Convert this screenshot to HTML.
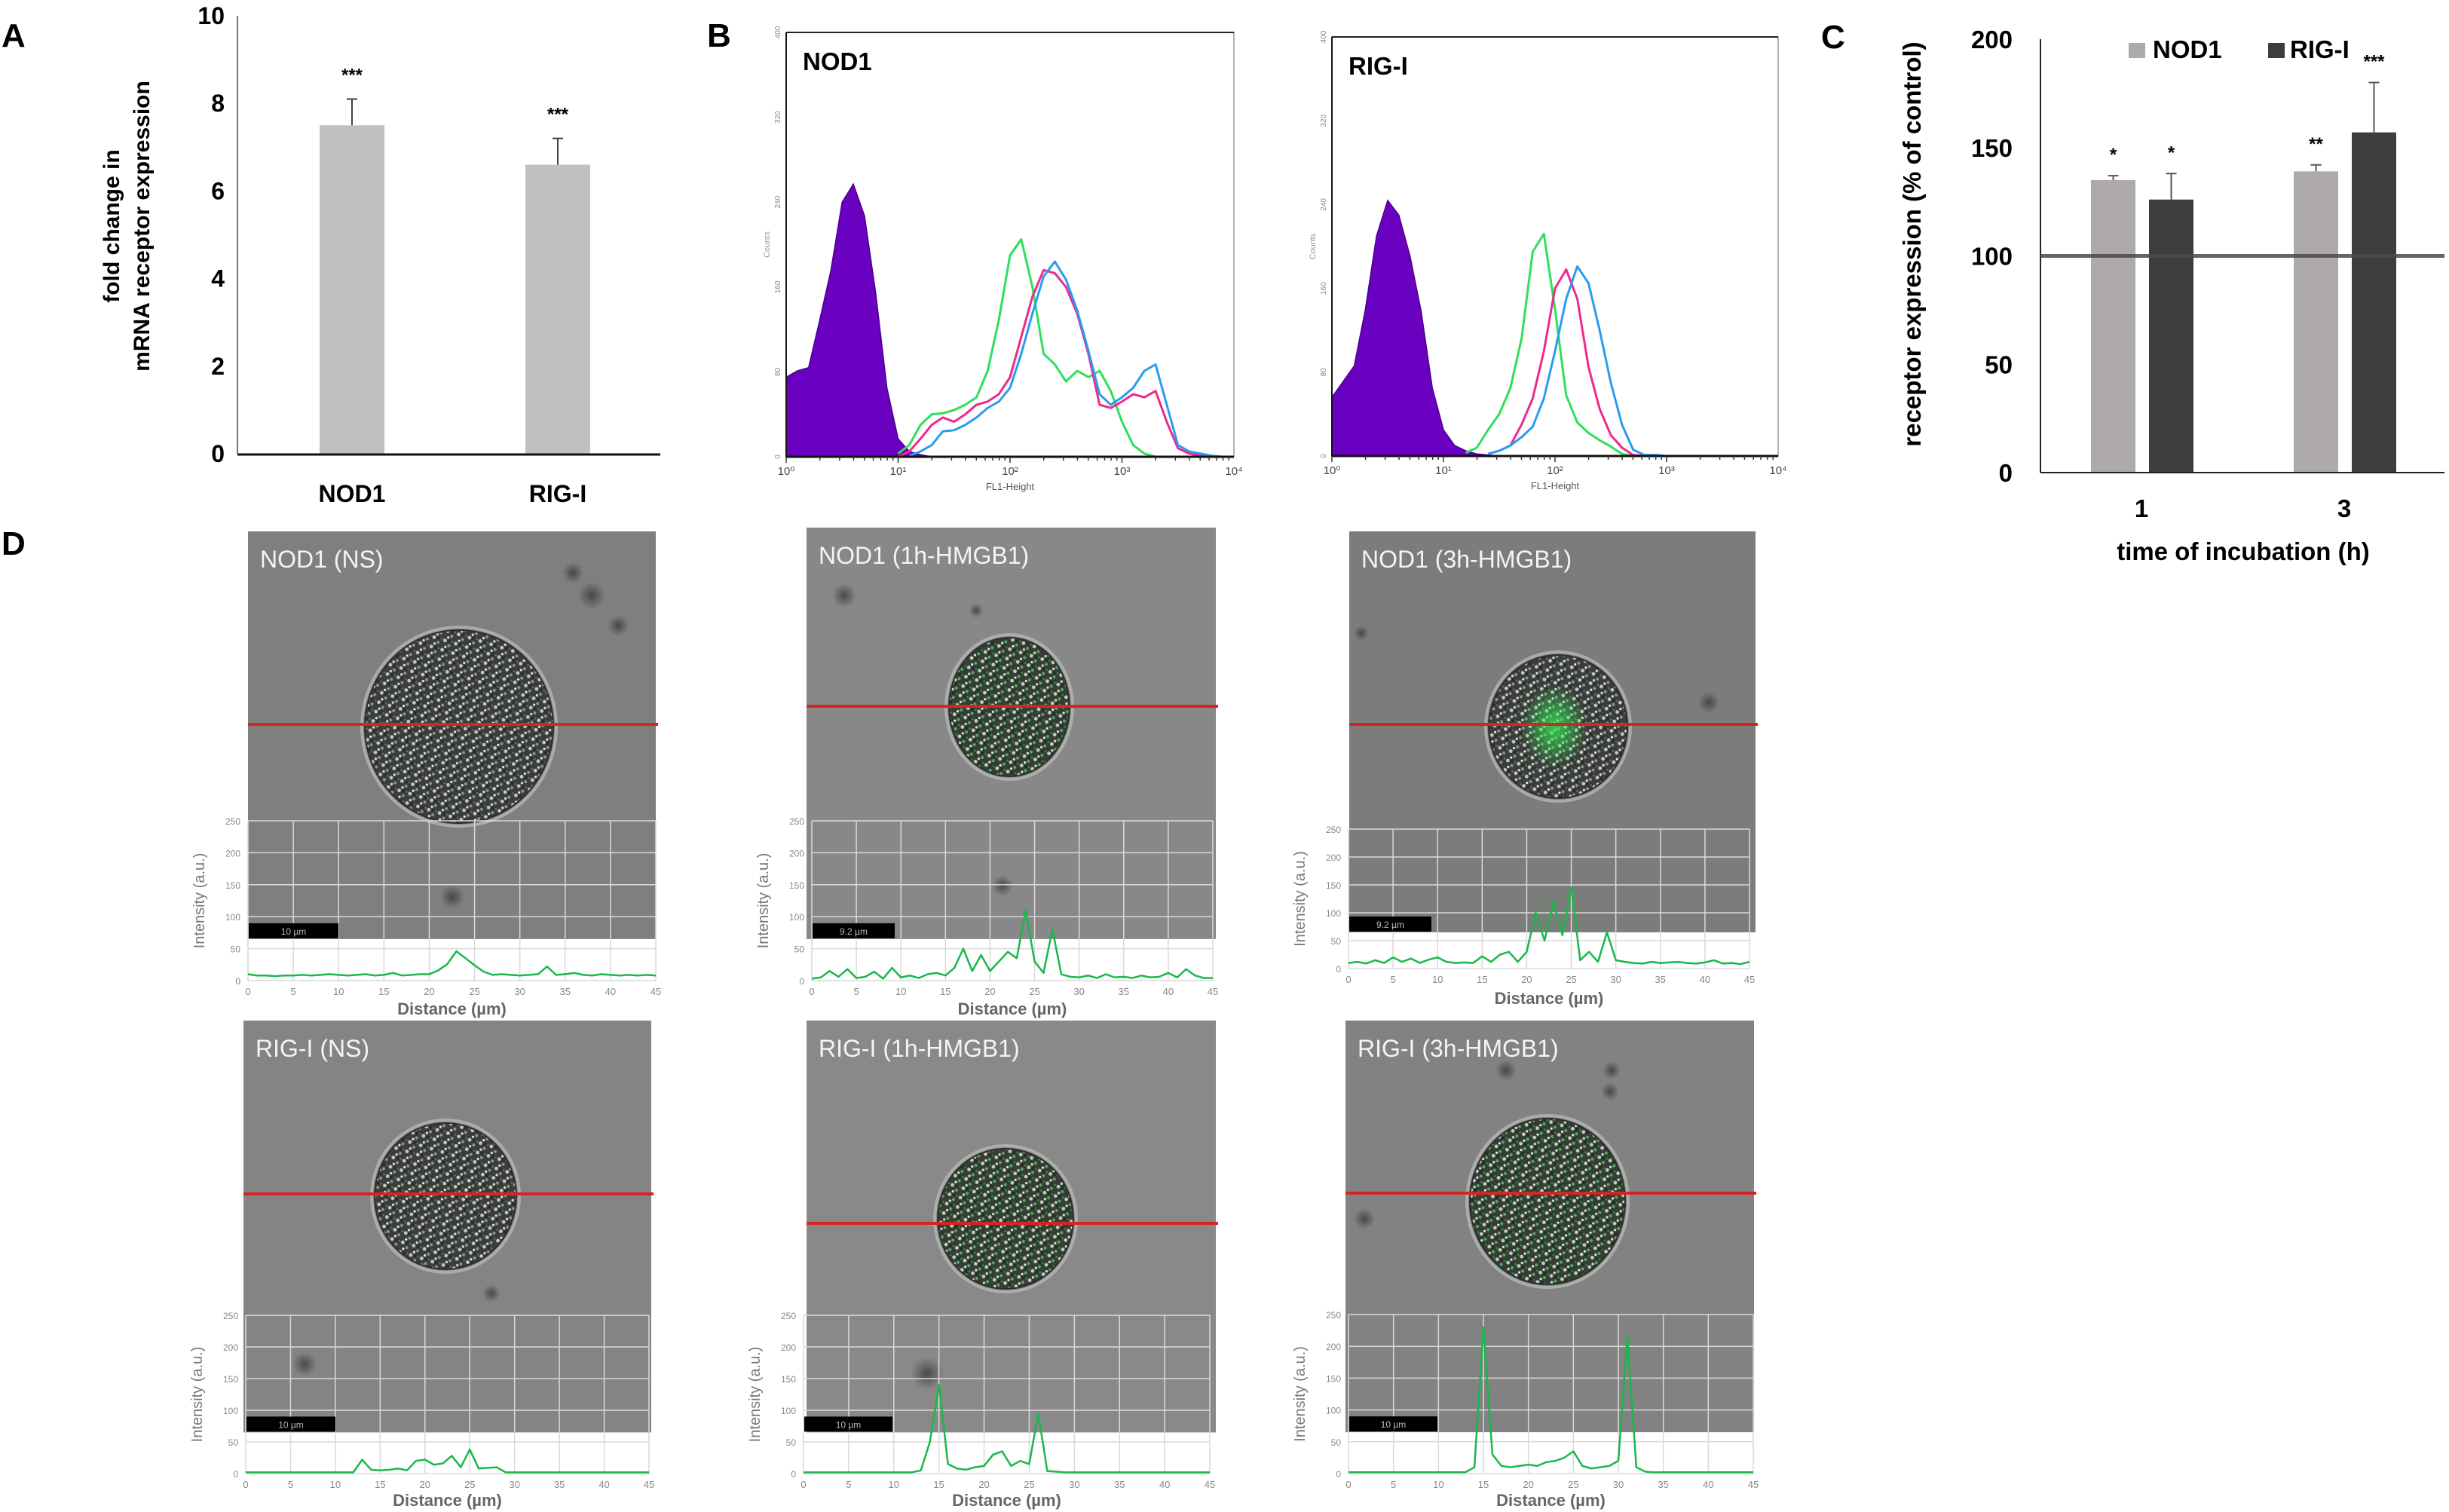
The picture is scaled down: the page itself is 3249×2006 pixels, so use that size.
<!DOCTYPE html>
<html><head><meta charset="utf-8"><title>NOD1 / RIG-I expression figure</title>
<style>
html,body{margin:0;padding:0;background:#fff;}
svg{display:block;font-family:"Liberation Sans",sans-serif;}
</style></head>
<body>
<svg id="fig" width="3249" height="2006" viewBox="0 0 3249 2006" xmlns="http://www.w3.org/2000/svg">
<defs>
<pattern id="tex" width="15" height="13" patternUnits="userSpaceOnUse" patternTransform="rotate(17)">
<rect width="15" height="13" fill="#3a3d3a"/>
<circle cx="3" cy="3" r="2.4" fill="#c4c8c4"/>
<circle cx="10" cy="8" r="2" fill="#8d938d"/>
<circle cx="6" cy="11" r="1.6" fill="#e2e6e2"/>
<circle cx="13" cy="2" r="1.3" fill="#6a706a"/>
<rect x="7" y="1" width="3" height="3" fill="#262826"/>
</pattern>
<pattern id="texg" width="15" height="13" patternUnits="userSpaceOnUse" patternTransform="rotate(17)">
<rect width="15" height="13" fill="#353d35"/>
<circle cx="3" cy="3" r="2.4" fill="#c0d0c0"/>
<circle cx="10" cy="8" r="2" fill="#4fae5c"/>
<circle cx="6" cy="11" r="1.6" fill="#dfe8df"/>
<circle cx="13" cy="2" r="1.3" fill="#3a8f46"/>
<rect x="7" y="1" width="3" height="3" fill="#232823"/>
</pattern>
<radialGradient id="glow"><stop offset="0" stop-color="#33ee55" stop-opacity="0.8"/><stop offset="1" stop-color="#33ee55" stop-opacity="0"/></radialGradient>
<radialGradient id="blob"><stop offset="0" stop-color="#303030" stop-opacity="0.7"/><stop offset="1" stop-color="#303030" stop-opacity="0"/></radialGradient>
</defs>

<text x="2" y="62" font-size="44" font-weight="bold">A</text>
<text x="938" y="62" font-size="44" font-weight="bold">B</text>
<text x="2416" y="64" font-size="44" font-weight="bold">C</text>
<text x="2" y="736" font-size="44" font-weight="bold">D</text>

<g id="panelA">
<text transform="translate(158,300) rotate(-90)" text-anchor="middle" font-size="30" font-weight="bold">fold change in</text>
<text transform="translate(198,300) rotate(-90)" text-anchor="middle" font-size="30" font-weight="bold">mRNA receptor expression</text>
</g>
<g id="panelB"></g>
<g id="panelC">
<text transform="translate(2548,324) rotate(-90)" text-anchor="middle" font-size="33" font-weight="bold">receptor expression (% of control)</text>
<text x="2976" y="743" text-anchor="middle" font-size="33" font-weight="bold">time of incubation (h)</text>
<rect x="2824" y="57" width="22" height="20" fill="#aeaaaa"/>
<text x="2856" y="77" font-size="33" font-weight="bold">NOD1</text>
<rect x="3009" y="57" width="22" height="20" fill="#3d3d3d"/>
<text x="3038" y="77" font-size="33" font-weight="bold">RIG-I</text>
</g>
<g id="panelD"></g>
</svg>

<script>
// ---------- Panel A data ----------
const catsA = ['NOD1', 'RIG-I'];
const valsA = [7.5, 6.6];
const errA = [0.6, 0.6];
const starsA = ['***', '***'];
const ticksA = [0, 2, 4, 6, 8, 10];

// ---------- Panel C data ----------
const timesC = ['1', '3'];
const nodC = [135, 139];
const nodErrC = [2, 3];
const rigC = [126, 157];
const rigErrC = [12, 23];
const nodStarsC = ['*', '**'];
const rigStarsC = ['*', '***'];
const ticksC = [0, 50, 100, 150, 200];
const refC = 100;

// ---------- Panel B histogram data (counts at 0.1-decade bins) ----------
const nodPurpleStart = 0.0;
const nodPurple = [75, 81, 84, 129, 176, 240, 257, 227, 154, 65, 17, 5, 2, 0];
const nodGreenStart = 1.0;
const nodGreen = [3, 11, 30, 40, 41, 44, 49, 56, 81, 129, 190, 205, 160, 97, 87, 71, 81, 75, 81, 62, 33, 11, 3, 0, 0, 0, 0, 0, 0, 0];
const nodPinkStart = 1.0;
const nodPink = [0, 5, 17, 30, 37, 33, 40, 49, 52, 59, 75, 113, 151, 176, 173, 160, 135, 97, 49, 46, 52, 59, 56, 62, 33, 8, 3, 1, 0, 0];
const nodBlueStart = 1.1;
const nodBlue = [1, 5, 11, 24, 25, 30, 37, 46, 52, 65, 97, 135, 170, 184, 167, 138, 100, 59, 49, 56, 65, 81, 87, 49, 11, 5, 3, 1, 0];
const rigPurpleStart = 0.0;
const rigPurple = [56, 71, 86, 140, 210, 244, 230, 191, 138, 65, 25, 10, 5, 2, 1, 0];
const rigGreenStart = 1.2;
const rigGreen = [3, 8, 25, 40, 65, 112, 195, 212, 140, 58, 32, 22, 15, 9, 2, 0, 0];
const rigPinkStart = 1.4;
const rigPink = [2, 5, 10, 30, 55, 100, 160, 178, 150, 85, 45, 20, 8, 1, 0, 0];
const rigBlueStart = 1.4;
const rigBlue = [2, 5, 10, 18, 28, 55, 100, 150, 181, 165, 120, 70, 30, 6, 1, 1, 0];
const histTicksY = [0, 80, 160, 240, 320, 400];
const histTicksX = ['10\u2070', '10\u00b9', '10\u00b2', '10\u00b3', '10\u2074'];

// ---------- Panel D line-profile data (intensity per µm) ----------
const profDist = [0,1,2,3,4,5,6,7,8,9,10,11,12,13,14,15,16,17,18,19,20,21,22,23,24,25,26,27,28,29,30,31,32,33,34,35,36,37,38,39,40,41,42,43,44,45];
const profNodNS = [10,8,8,7,8,8,9,8,9,10,9,8,9,10,8,9,12,8,9,10,10,16,26,46,35,24,14,9,10,9,8,9,10,22,9,10,12,9,8,10,9,8,9,8,9,8];
const profNod1h = [3,5,15,6,18,4,6,14,3,20,5,8,4,10,12,8,20,50,15,40,15,30,45,35,110,30,12,80,10,6,5,8,4,10,5,6,4,8,5,6,12,5,18,8,4,4];
const profNod3h = [10,12,9,15,10,20,12,18,10,16,20,12,10,11,10,22,12,25,30,12,30,100,50,120,60,145,15,30,12,65,15,12,10,9,12,10,11,12,10,9,11,15,9,10,8,12];
const profRigNS = [2,2,2,2,2,2,2,2,2,2,2,2,2,22,6,5,6,8,5,20,22,14,16,28,10,38,8,9,10,2,2,2,2,2,2,2,2,2,2,2,2,2,2,2,2,2];
const profRig1h = [2,2,2,2,2,2,2,2,2,2,2,2,2,5,50,140,15,8,6,10,12,30,35,12,20,15,95,4,3,2,2,2,2,2,2,2,2,2,2,2,2,2,2,2,2,2];
const profRig3h = [2,2,2,2,2,2,2,2,2,2,2,2,2,2,10,230,30,12,10,12,14,12,18,20,25,35,12,8,10,12,20,215,10,3,2,2,2,2,2,2,2,2,2,2,2,2];
const profTicksX = [0,5,10,15,20,25,30,35,40,45];
const profTicksY = [0,50,100,150,200,250];

// ---------- helpers ----------
const NS = 'http://www.w3.org/2000/svg';
function mk(tag, attrs, parent) {
  const e = document.createElementNS(NS, tag);
  for (const k in attrs) e.setAttribute(k, attrs[k]);
  parent.appendChild(e);
  return e;
}
const gA = document.getElementById('panelA');
const gB = document.getElementById('panelB');
const gC = document.getElementById('panelC');
const gD = document.getElementById('panelD');

// ---------- Panel A ----------
const A = {x0: 315, x1: 876, yBase: 602, yTop: 21, vmax: 10, centers: [467, 740], bw: 86};
function yA(v) { return A.yBase - v / A.vmax * (A.yBase - A.yTop); }
let e;
e = mk('line', {x1: A.x0, y1: A.yTop, x2: A.x0, y2: A.yBase, stroke: '#777', 'stroke-width': 2}, gA);


ticksA.forEach(t => {
  const tl = mk('text', {x: 298, y: yA(t) + 11, 'text-anchor': 'end', 'font-size': 32, 'font-weight': 'bold'}, gA);
  tl.textContent = t;
  
  
});
catsA.forEach((c, i) => {
  const cx = A.centers[i];
  const b = mk('rect', {x: cx - A.bw / 2, y: yA(valsA[i]), width: A.bw, height: A.yBase - yA(valsA[i]), fill: '#c0c0c0'}, gA);
  
  
  const eb = mk('path', {d: `M${cx},${yA(valsA[i])} V${yA(valsA[i] + errA[i])} M${cx - 7},${yA(valsA[i] + errA[i])} H${cx + 7}`, stroke: '#444', 'stroke-width': 2, fill: 'none'}, gA);
  
  
  const st = mk('text', {x: cx, y: yA(valsA[i] + errA[i]) - 24, 'text-anchor': 'middle', 'font-size': 24, 'font-weight': 'bold'}, gA);
  st.textContent = starsA[i];
  
  
  const lb = mk('text', {x: cx, y: 666, 'text-anchor': 'middle', 'font-size': 32, 'font-weight': 'bold'}, gA);
  lb.textContent = c;
  
  
});
e = mk('line', {x1: A.x0, y1: A.yBase + 1, x2: A.x1, y2: A.yBase + 1, stroke: '#111', 'stroke-width': 3}, gA);



// ---------- Panel C ----------
const C = {x0: 2707, x1: 3243, yBase: 627, yTop: 52, vmax: 200, centers: [2841, 3110], bw: 59};
function yC(v) { return C.yBase - v / C.vmax * (C.yBase - C.yTop); }
e = mk('line', {x1: C.x0, y1: C.yTop, x2: C.x0, y2: C.yBase, stroke: '#222', 'stroke-width': 2}, gC);


ticksC.forEach(t => {
  const tl = mk('text', {x: 2670, y: yC(t) + 12, 'text-anchor': 'end', 'font-size': 33, 'font-weight': 'bold'}, gC);
  tl.textContent = t;
  
  
});
timesC.forEach((t, i) => {
  const c = C.centers[i];
  const xs = [c - 67, c + 10];
  const vals = [nodC[i], rigC[i]];
  const errs = [nodErrC[i], rigErrC[i]];
  const stars = [nodStarsC[i], rigStarsC[i]];
  const cols = ['#aeaaaa', '#3d3d3d'];
  const names = ['nod1', 'rig1'];
  for (let s = 0; s < 2; s++) {
    const b = mk('rect', {x: xs[s], y: yC(vals[s]), width: C.bw, height: C.yBase - yC(vals[s]), fill: cols[s]}, gC);
    
    
    const mx = xs[s] + C.bw / 2;
    const eb = mk('path', {d: `M${mx},${yC(vals[s])} V${yC(vals[s] + errs[s])} M${mx - 7},${yC(vals[s] + errs[s])} H${mx + 7}`, stroke: '#555', 'stroke-width': 2, fill: 'none'}, gC);
    
    
    const st = mk('text', {x: mx, y: yC(vals[s] + errs[s]) - 20, 'text-anchor': 'middle', 'font-size': 24, 'font-weight': 'bold'}, gC);
    st.textContent = stars[s];
    
    
  }
  const lb = mk('text', {x: c, y: 686, 'text-anchor': 'middle', 'font-size': 33, 'font-weight': 'bold'}, gC);
  lb.textContent = t;
  
  
});
e = mk('line', {x1: C.x0, y1: yC(refC), x2: C.x1, y2: yC(refC), stroke: '#4a4a4a', 'stroke-width': 5, 'stroke-opacity': 0.85}, gC);


e = mk('line', {x1: C.x0, y1: C.yBase, x2: C.x1, y2: C.yBase, stroke: '#222', 'stroke-width': 2}, gC);



// ---------- Panel B ----------
const histPanels = [
  {name: 'nod1', label: 'NOD1', x0: 1043, x1: 1637, y0: 43, y1: 606,
   purple: nodPurple, pS: nodPurpleStart, series: [[nodGreen, nodGreenStart, '#2ee05a'], [nodPink, nodPinkStart, '#ee2a8a'], [nodBlue, nodBlueStart, '#2a9cf0']]},
  {name: 'rig1', label: 'RIG-I', x0: 1767, x1: 2359, y0: 49, y1: 605,
   purple: rigPurple, pS: rigPurpleStart, series: [[rigGreen, rigGreenStart, '#2ee05a'], [rigPink, rigPinkStart, '#ee2a8a'], [rigBlue, rigBlueStart, '#2a9cf0']]}
];
histPanels.forEach(p => {
  const hx = l => p.x0 + l / 4 * (p.x1 - p.x0);
  const hy = c => p.y1 - c / 400 * (p.y1 - p.y0);
  const g = mk('g', {}, gB);
  
  
  const fr = mk('rect', {x: p.x0, y: p.y0, width: p.x1 - p.x0, height: p.y1 - p.y0, fill: '#fff', stroke: '#999', 'stroke-width': 1.5}, g);
  
  
  const top = mk('line', {x1: p.x0, y1: p.y0, x2: p.x1, y2: p.y0, stroke: '#222', 'stroke-width': 2}, g);
  
  
  let pts = [[hx(p.pS), hy(0)]];
  p.purple.forEach((c, i) => pts.push([hx(p.pS + i * 0.1), hy(c)]));
  pts.push([hx(p.pS + (p.purple.length - 1) * 0.1), hy(0)]);
  const pf = mk('polygon', {points: pts.map(q => q.join(',')).join(' '), fill: '#6a00c0', stroke: '#4a0090', 'stroke-width': 1.5}, g);
  
  
  p.series.forEach(([arr, st, col], k) => {
    const sp = arr.map((c, i) => hx(st + i * 0.1) + ',' + hy(c)).join(' ');
    const pl = mk('polyline', {points: sp, fill: 'none', stroke: col, 'stroke-width': 3, 'stroke-linejoin': 'round'}, g);
    
    
  });
  const base = mk('line', {x1: p.x0, y1: p.y1, x2: p.x1, y2: p.y1, stroke: '#111', 'stroke-width': 3}, g);
  
  
  const yl = mk('line', {x1: p.x0, y1: p.y0, x2: p.x0, y2: p.y1, stroke: '#111', 'stroke-width': 2}, g);
  
  
  histTicksX.forEach((t, i) => {
    const tl = mk('text', {x: hx(i), y: p.y1 + 24, 'text-anchor': 'middle', 'font-size': 15, fill: '#444'}, g);
    tl.textContent = t;
    
    
    for (let m = 1; m < 10 && i < 4; m++) {
      const lx = hx(i + Math.log10(m));
      const tk = mk('line', {x1: lx, y1: p.y1, x2: lx, y2: p.y1 + (m === 1 ? 8 : 5), stroke: '#333', 'stroke-width': 1.5}, g);
      
      
    }
  });
  histTicksY.forEach(t => {
    const tl = mk('text', {transform: `translate(${p.x0 - 8},${hy(t)}) rotate(-90)`, 'text-anchor': 'middle', 'font-size': 10, fill: '#888'}, g);
    tl.textContent = t;
    
    
  });
  const yt = mk('text', {transform: `translate(${p.x0 - 22},${(p.y0 + p.y1) / 2}) rotate(-90)`, 'text-anchor': 'middle', 'font-size': 11, fill: '#999'}, g);
  yt.textContent = 'Counts';
  
  
  const xt = mk('text', {x: (p.x0 + p.x1) / 2, y: p.y1 + 44, 'text-anchor': 'middle', 'font-size': 13, fill: '#555'}, g);
  xt.textContent = 'FL1-Height';
  
  
  const lb = mk('text', {x: p.x0 + 22, y: p.y0 + 50, 'font-size': 33, 'font-weight': 'bold'}, g);
  lb.textContent = p.label;
  
  
});

// ---------- Panel D ----------
const tiles = [
  {name: 'nod1-ns', title: 'NOD1 (NS)', ix: 329, iy: 705, iw: 541, ih: 541, bg: '#7e7f7e', red: 961, cx: 609, cy: 964, rx: 125, ry: 128, green: false, glow: false,
   px0: 329, px1: 870, py0: 1301, py1: 1089, bar: '10 µm', barW: 119, tickY: 1320, distY: 1346, vals: profNodNS, blobs: [[785, 790, 18], [760, 760, 14], [820, 830, 14], [600, 1190, 16]]},
  {name: 'nod1-1h', title: 'NOD1 (1h-HMGB1)', ix: 1070, iy: 700, iw: 543, ih: 546, bg: '#878887', red: 937, cx: 1339, cy: 938, rx: 80, ry: 92, green: true, glow: false,
   px0: 1077, px1: 1609, py0: 1301, py1: 1089, bar: '9.2 µm', barW: 109, tickY: 1320, distY: 1346, vals: profNod1h, blobs: [[1120, 790, 16], [1295, 810, 10], [1330, 1175, 14]]},
  {name: 'nod1-3h', title: 'NOD1 (3h-HMGB1)', ix: 1790, iy: 705, iw: 539, ih: 541, bg: '#7b7d7b', red: 961, cx: 2067, cy: 964, rx: 92, ry: 95, green: false, glow: true,
   px0: 1789, px1: 2321, py0: 1285, py1: 1100, bar: '9.2 µm', barW: 109, tickY: 1304, distY: 1332, vals: profNod3h, blobs: [[2267, 932, 14], [1806, 840, 10]]},
  {name: 'rig1-ns', title: 'RIG-I (NS)', ix: 323, iy: 1354, iw: 541, ih: 542, bg: '#838483', red: 1584, cx: 591, cy: 1587, rx: 94, ry: 97, green: false, glow: false,
   px0: 326, px1: 861, py0: 1955, py1: 1745, bar: '10 µm', barW: 118, tickY: 1974, distY: 1998, vals: profRigNS, blobs: [[404, 1810, 16], [652, 1716, 12]]},
  {name: 'rig1-1h', title: 'RIG-I (1h-HMGB1)', ix: 1070, iy: 1354, iw: 543, ih: 542, bg: '#888988', red: 1623, cx: 1334, cy: 1617, rx: 90, ry: 93, green: true, glow: false,
   px0: 1066, px1: 1605, py0: 1955, py1: 1745, bar: '10 µm', barW: 117, tickY: 1974, distY: 1998, vals: profRig1h, blobs: [[1230, 1822, 22]]},
  {name: 'rig1-3h', title: 'RIG-I (3h-HMGB1)', ix: 1785, iy: 1354, iw: 542, ih: 542, bg: '#818281', red: 1583, cx: 2053, cy: 1594, rx: 103, ry: 110, green: true, glow: false,
   px0: 1789, px1: 2326, py0: 1955, py1: 1744, bar: '10 µm', barW: 117, tickY: 1974, distY: 1998, vals: profRig3h, blobs: [[1998, 1420, 14], [2138, 1420, 12], [2136, 1448, 12], [1810, 1617, 14]]}
];
tiles.forEach(t => {
  const g = mk('g', {}, gD);
  
  
  const px = d => t.px0 + d / 45 * (t.px1 - t.px0);
  const py = v => t.py0 - v / 250 * (t.py0 - t.py1);
  const imgBottom = py(65);
  const bg = mk('rect', {x: t.ix, y: t.iy, width: t.iw, height: imgBottom - t.iy, fill: t.bg}, g);
  
  
  t.blobs.forEach(b => {
    const bl = mk('circle', {cx: b[0], cy: b[1], r: b[2], fill: 'url(#blob)'}, g);
    
    
  });
  const halo = mk('ellipse', {cx: t.cx, cy: t.cy, rx: t.rx + 4, ry: t.ry + 4, fill: 'none', stroke: '#b4b8b4', 'stroke-width': 4, 'stroke-opacity': 0.8}, g);
  
  
  const cell = mk('ellipse', {cx: t.cx, cy: t.cy, rx: t.rx, ry: t.ry, fill: t.green ? 'url(#texg)' : 'url(#tex)', stroke: '#2e2e2e', 'stroke-width': 2}, g);
  
  
  if (t.glow) {
    const gl = mk('ellipse', {cx: t.cx - 5, cy: t.cy, rx: 45, ry: 55, fill: 'url(#glow)'}, g);
    
    
  }
  const rl = mk('line', {x1: t.ix, y1: t.red, x2: t.ix + t.iw + 3, y2: t.red, stroke: '#d42424', 'stroke-width': 4}, g);
  
  
  const tt = mk('text', {x: t.ix + 16, y: t.iy + 48, 'font-size': 32, fill: '#f4f4f4'}, g);
  tt.textContent = t.title;
  
  
  profTicksX.forEach(d => {
    const gl = mk('line', {x1: px(d), y1: t.py1, x2: px(d), y2: t.py0, stroke: '#d9d9d9', 'stroke-width': 1.5}, g);
    
    
    const tl = mk('text', {x: px(d), y: t.tickY, 'text-anchor': 'middle', 'font-size': 13, fill: '#888'}, g);
    tl.textContent = d;
    
    
  });
  profTicksY.forEach(v => {
    const gl = mk('line', {x1: t.px0, y1: py(v), x2: t.px1, y2: py(v), stroke: '#d9d9d9', 'stroke-width': 1.5}, g);
    
    
    const tl = mk('text', {x: t.px0 - 10, y: py(v) + 5, 'text-anchor': 'end', 'font-size': 12, fill: '#888'}, g);
    tl.textContent = v;
    
    
  });
  const sb = mk('rect', {x: t.px0 + 1, y: imgBottom - 21, width: t.barW, height: 20, fill: '#000'}, g);
  
  
  const sbt = mk('text', {x: t.px0 + 1 + t.barW / 2, y: imgBottom - 6, 'text-anchor': 'middle', 'font-size': 12, fill: '#bbb'}, g);
  sbt.textContent = t.bar;
  
  
  const trace = mk('polyline', {points: profDist.map((d, i) => px(d) + ',' + py(t.vals[i])).join(' '), fill: 'none', stroke: '#19b84a', 'stroke-width': 2.5, 'stroke-linejoin': 'round'}, g);
  
  
  const xt = mk('text', {x: (t.px0 + t.px1) / 2, y: t.distY, 'text-anchor': 'middle', 'font-size': 22, 'font-weight': 'bold', fill: '#666'}, g);
  xt.textContent = 'Distance (µm)';
  
  
  const yt = mk('text', {transform: `translate(${t.px0 - 58},${(t.py0 + t.py1) / 2}) rotate(-90)`, 'text-anchor': 'middle', 'font-size': 20, fill: '#777'}, g);
  yt.textContent = 'Intensity (a.u.)';
  
  
});
</script>
</body></html>
